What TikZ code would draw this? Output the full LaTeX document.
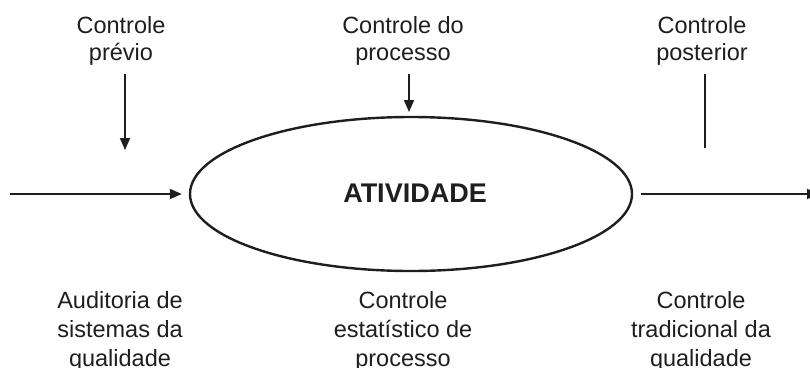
\documentclass[tikz,border=0pt]{standalone}
\usepackage{fontspec}
\setmainfont{Liberation Sans}
\usetikzlibrary{arrows.meta,shapes.geometric}
\definecolor{ink}{HTML}{1E1E1E}
\begin{document}
\begin{tikzpicture}[x=1pt,y=-1pt,
  lbl/.style={align=center,text=ink,inner sep=0pt,font=\fontsize{23.5}{27}\selectfont},
  lblb/.style={align=center,text=ink,inner sep=0pt,font=\fontsize{23.5}{29}\selectfont},
  arr/.style={draw=ink,line width=1.8pt,-{Triangle[length=12pt,width=10pt]}},
  plain/.style={draw=ink,line width=1.8pt}]
\useasboundingbox (0,0) rectangle (810,367);
\node[ellipse,draw=ink,line width=2.4pt,minimum width=442pt,minimum height=154pt,inner sep=0pt] (act) at (411,194) {};
\node[text=ink,font=\bfseries\fontsize{27}{30}\selectfont] (t) at (415,193) {ATIVIDADE};
% top labels
\node[lbl] (c1) at (121,40.5) {Controle\\prévio};
\node[lbl] (c2) at (403,40.5) {Controle do\\processo};
\node[lbl] (c3) at (702,40.5) {Controle\\posterior};
% bottom labels
\node[lblb] (b1) at (120,331) {Auditoria de\\sistemas da\\qualidade};
\node[lblb] (b2) at (403,331) {Controle\\estatístico de\\processo};
\node[lblb] (b3) at (701,331) {Controle\\tradicional da\\qualidade};
% coordinates
\coordinate (s1) at (125,74);
\coordinate (e1) at (125,150);
\coordinate (s2) at (409,74);
\coordinate (e2) at (409,112);
\coordinate (s3) at (705,74);
\coordinate (e3) at (705,148);
\coordinate (in) at (10,194);
\coordinate (out) at (819,194);
% connectors
\draw[arr] (s1) -- (e1);
\draw[arr] (s2) -- (e2);
\draw[plain] (s3) -- (e3);
\draw[arr,shorten >=7pt] (in) -- (act.west);
\draw[arr,shorten <=8pt] (act.east) -- (out);
\end{tikzpicture}
\end{document}
